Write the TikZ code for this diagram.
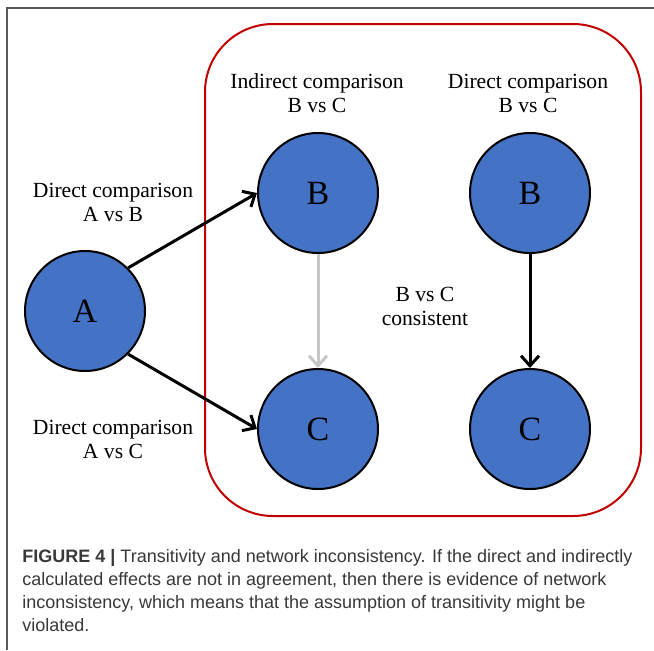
\documentclass[tikz,border=0pt]{standalone}
\usepackage{fontspec}
\setmainfont{Liberation Serif}
\newfontfamily\captionfont{Liberation Sans}
\usetikzlibrary{arrows.meta}

\definecolor{nodeblue}{HTML}{4472C4}
\definecolor{boxred}{HTML}{C00000}
\definecolor{framegray}{HTML}{5A5A5A}
\definecolor{captiongray}{HTML}{383838}

\begin{document}
\begin{tikzpicture}[
		x=0.5pt, y=-0.5pt,
		treat/.style={circle, draw, line width=1pt, fill=nodeblue, minimum size=60pt, inner sep=0pt, font=\fontsize{17}{17}\selectfont},
		cmplabel/.style={align=center, inner sep=0pt, font=\fontsize{10.8}{12}\selectfont},
		link/.style={line width=1.5pt, -{Straight Barb[length=5pt,width=9pt]}},
		captext/.style={anchor=north west, align=left, inner sep=0pt, text=captiongray, font=\captionfont\fontsize{9}{11.5}\selectfont}
	]

	\useasboundingbox (0,0) rectangle (654,650);

	% Figure frame
	\draw[framegray, line width=1pt] (7,650) -- (7,8) -- (654,8);

	% Comparison box
	\draw[boxred, line width=1pt, rounded corners=34pt] (205,24) rectangle (641,516);

	% Treatments
	\node[treat] (A) at (85,311) {A};
	\foreach \col/\x in {1/318, 2/530} {
			\node[treat] (B\col) at (\x,193) {B};
			\node[treat] (C\col) at (\x,429) {C};
		}

	% Comparisons
	\draw[link] (A.45) -- (B1.west);
	\draw[link] (A.-45) -- (C1.west);
	\draw[link, draw=gray!45] (B1.south) -- (C1.north);
	\draw[link] (B2.south) -- (C2.north);

	% Labels
	\node[cmplabel] (ab) at (113,202) {Direct comparison\\A vs B};
	\node[cmplabel] (ac) at (113,439) {Direct comparison\\A vs C};
	\node[cmplabel] (ind) at (317,93) {Indirect comparison\\B vs C};
	\node[cmplabel] (dir) at (528,93) {Direct comparison\\B vs C};
	\node[cmplabel] (cons) at (425,306) {B vs C\\consistent};

	% Caption
	\node[captext] (cap) at (22,549) {\textbf{FIGURE 4 |} Transitivity and network inconsistency. If the direct and indirectly\\
		calculated effects are not in agreement, then there is evidence of network\\
		inconsistency, which means that the assumption of transitivity might be\\
		violated.};

\end{tikzpicture}
\end{document}
